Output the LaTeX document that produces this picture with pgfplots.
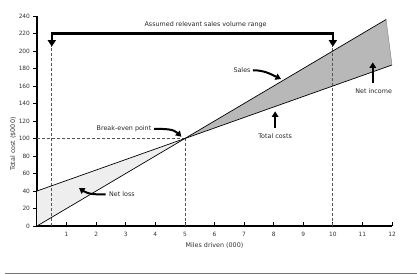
\documentclass[border=0pt]{standalone}
\usepackage{pgfplots}
\pgfplotsset{compat=1.18}
\usepackage{fontspec}
\setmainfont{DejaVu Sans}
\usetikzlibrary{arrows.meta}
\definecolor{lossgray}{HTML}{EEEEEE}
\definecolor{incgray}{HTML}{B8B8B8}
\definecolor{dashgray}{HTML}{555555}
\begin{document}
\begin{tikzpicture}
\useasboundingbox (-37bp,-48bp) rectangle (380bp,226bp);
\begin{axis}[
  scale only axis, width=355bp, height=210bp,
  xmin=0, xmax=12, ymin=0, ymax=240,
  axis lines=left,
  axis line style={-, line width=1.5bp, black},
  xtick={1,2,...,12}, ytick={0,20,...,240},
  x tick style={black, line width=0.8bp},
  y tick style={black, line width=0.8bp},
  xtick align=inside, ytick align=outside,
  major tick length=4bp,
  tick label style={font=\fontsize{5.9}{7}\selectfont, text=black!80},
  y tick label style={xshift=0.5bp},
  x tick label style={yshift=-3bp},
  /pgf/number format/assume math mode=true,
  xlabel={Miles driven (000)},
  ylabel={Total cost (\$000)},
  label style={font=\fontsize{6.4}{7}\selectfont, text=black!80},
  xlabel style={yshift=1bp},
  ylabel style={at={(axis description cs:-0.067,0.39)}, anchor=center},
  clip=false,
]
% filled regions
\addplot[draw=none, fill=lossgray] coordinates {(0,0) (0,40) (5,100)} -- cycle;
\addplot[draw=none, fill=incgray] coordinates {(5,100) (11.8,236) (12,184)} -- cycle;
% dashed guide lines
\addplot[dashgray, line width=0.8bp, dash pattern=on 3bp off 2bp] coordinates {(0.5,0) (0.5,206)};
\addplot[dashgray, line width=0.8bp, dash pattern=on 3bp off 2bp] coordinates {(10,0) (10,206)};
\addplot[dashgray, line width=0.8bp, dash pattern=on 3bp off 2bp] coordinates {(5,0) (5,100)};
\addplot[dashgray, line width=0.8bp, dash pattern=on 3bp off 2bp] coordinates {(0,100) (5,100)};
% sales and total costs
\addplot[black, line width=0.7bp] coordinates {(0,0) (5,100) (11.8,236)};
\addplot[black, line width=0.7bp] coordinates {(0,40) (5,100) (12,184)};
% right edge of income area
\addplot[black!50, line width=0.4bp] coordinates {(11.8,236) (12,184)};
% relevant range arrow
\draw[line width=2.4bp, line join=miter, {Triangle[length=6.5bp,width=8bp]}-{Triangle[length=6.5bp,width=8bp]}]
  (axis cs:0.5,205) -- (axis cs:0.5,220) -- (axis cs:10,220) -- (axis cs:10,205);
\node[font=\fontsize{6.4}{7}\selectfont, text=black!85] at (axis cs:5.7,229.5) {Assumed relevant sales volume range};
% annotations
\tikzset{ann/.style={line width=2bp, -{Triangle[length=5.5bp,width=6.5bp]}}}
\node[font=\fontsize{6.4}{7}\selectfont, text=black!85] at (axis cs:6.93,178) {Sales};
\draw[ann] (axis cs:7.3,178) to[out=0,in=155] (axis cs:8.25,168);
\node[font=\fontsize{6.4}{7}\selectfont, text=black!85] at (axis cs:2.94,111) {Break-even point};
\draw[ann] (axis cs:3.96,111) to[out=0,in=135] (axis cs:4.88,102);
\node[font=\fontsize{6.4}{7}\selectfont, text=black!85] at (axis cs:2.87,36) {Net loss};
\draw[ann] (axis cs:2.32,36) to[out=180,in=-35] (axis cs:1.42,43.5);
\node[font=\fontsize{6.4}{7}\selectfont, text=black!85] at (axis cs:8.05,103) {Total costs};
\draw[ann] (axis cs:8.05,112) -- (axis cs:8.05,131);
\node[font=\fontsize{6.4}{7}\selectfont, text=black!85] at (axis cs:11.38,154.6) {Net income};
\draw[ann] (axis cs:11.35,163) -- (axis cs:11.35,187);
\end{axis}
\draw[black!55, line width=1bp] (-32bp,-47bp) -- (380bp,-47bp);
\end{tikzpicture}
\end{document}
